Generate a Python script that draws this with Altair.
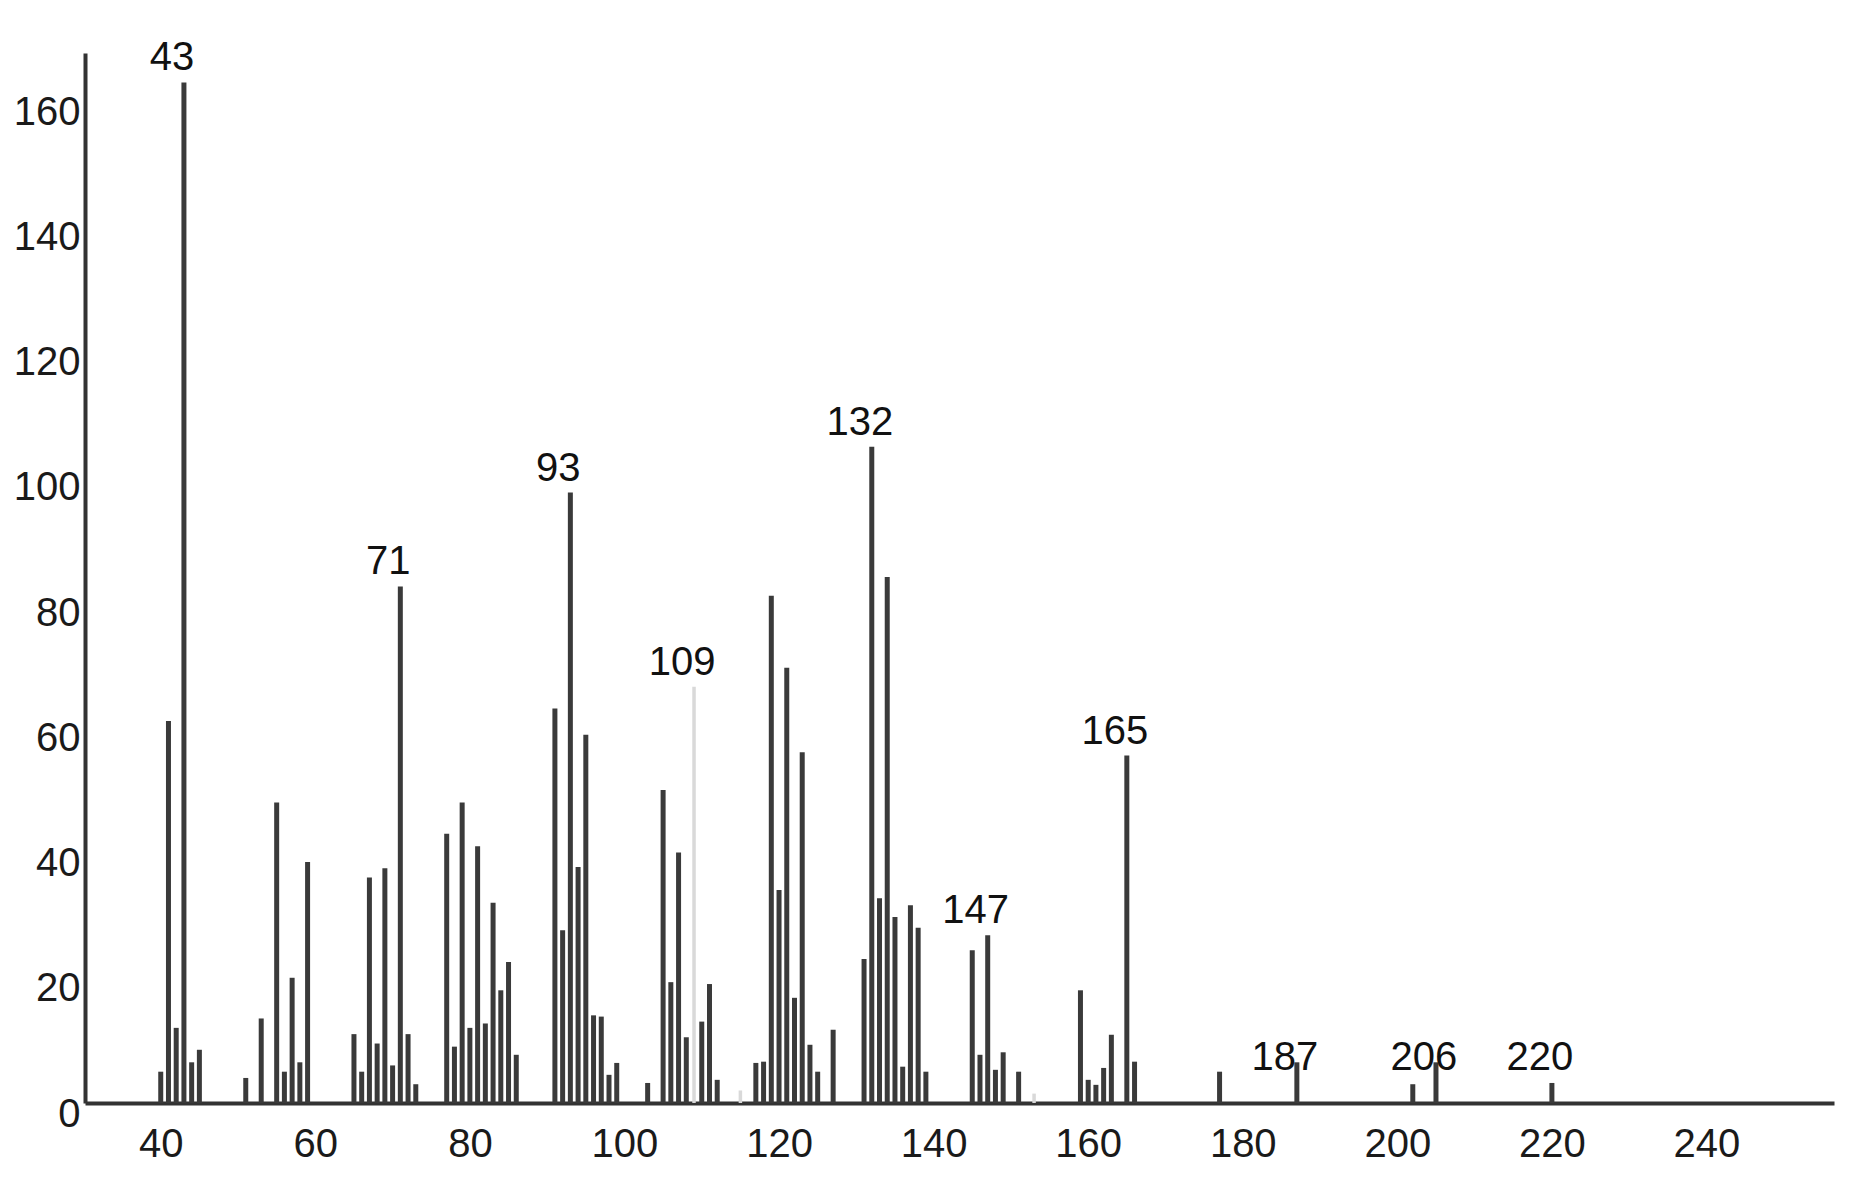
import altair as alt
import pandas as pd

# m/z positions and relative intensities
mz = [40, 41, 42, 43, 44, 45,
      51, 53, 55, 56, 57, 58, 59,
      65, 66, 67, 68, 69, 70, 71, 72, 73,
      77, 78, 79, 80, 81, 82, 83, 84, 85, 86,
      91, 92, 93, 94, 95, 96, 97, 98, 99,
      103, 105, 106, 107, 108, 109, 110, 111, 112,
      115,
      117, 118, 119, 120, 121, 122, 123, 124, 125, 127,
      131, 132, 133, 134, 135, 136, 137, 138, 139,
      145, 146, 147, 148, 149, 151, 153,
      159, 160, 161, 162, 163, 165, 166,
      177, 187, 202, 205, 220]
intensity = [5, 61, 12, 163, 6.5, 8.5,
             4, 13.5, 48, 5, 20, 6.5, 38.5,
             11, 5, 36, 9.5, 37.5, 6, 82.5, 11, 3,
             43, 9, 48, 12, 41, 12.7, 32, 18, 22.5, 7.7,
             63, 27.6, 97.5, 37.7, 58.8, 14, 13.8, 4.5, 6.4,
             3.2, 50, 19.3, 40, 10.5, 66.5, 13, 19, 3.7,
             2,
             6.4, 6.6, 81, 34, 69.5, 16.8, 56, 9.3, 5, 11.7,
             23, 104.8, 32.7, 84, 29.7, 5.8, 31.6, 28, 5,
             24.4, 7.7, 26.8, 5.3, 8.1, 5, 1.5,
             18, 3.7, 2.9, 5.6, 10.9, 55.5, 6.6,
             5, 6.5, 3, 6.5, 3.2]
faint_mz = [109, 115, 153]

label_mz = [43, 71, 93, 109, 132, 147, 165, 187, 205, 220]
label_text = ["43", "71", "93", "109", "132", "147", "165", "187", "206", "220"]

x_ticks = [40, 60, 80, 100, 120, 140, 160, 180, 200, 220, 240]
y_ticks = [0, 20, 40, 60, 80, 100, 120, 140, 160]

df = pd.DataFrame({"mz": mz, "intensity": intensity})
df["faint"] = df["mz"].isin(faint_mz)
lookup = dict(zip(mz, intensity))
labels = pd.DataFrame({"mz": label_mz, "label": label_text,
                       "intensity": [lookup[m] for m in label_mz]})

FONT = "Liberation Sans"
xscale = alt.Scale(domain=[30.2, 256.5], nice=False, zero=False)
yscale = alt.Scale(domain=[0, 167.7], nice=False)

x_axis = alt.Axis(values=x_ticks, title=None, grid=False, ticks=False, tickSize=0,
                  labelFontSize=40, labelFont=FONT, labelColor="#1a1a1a",
                  labelPadding=21, domainColor="#333333", domainWidth=4,
                  labelFlush=False)
y_axis = alt.Axis(values=y_ticks, title=None, grid=False, ticks=False, tickSize=0,
                  labelFontSize=40, labelFont=FONT, labelColor="#1a1a1a",
                  labelPadding=5, labelOffset=11, domainColor="#333333",
                  domainWidth=4, labelFlush=False)

X = alt.X("mz:Q", scale=xscale, axis=x_axis, title=None)

dark = alt.Chart(df).transform_filter("!datum.faint").mark_rule(
    strokeWidth=5, strokeCap="butt", color="#3a3a3a"
).encode(
    x=X,
    y=alt.Y("intensity:Q", scale=yscale, axis=y_axis, title=None),
    y2=alt.datum(0),
)

light = alt.Chart(df).transform_filter("datum.faint").mark_rule(
    strokeWidth=3.5, strokeCap="butt", color="#d9d9d9"
).encode(
    x=X,
    y=alt.Y("intensity:Q", scale=yscale, axis=y_axis, title=None),
    y2=alt.datum(0),
)

text = alt.Chart(labels).transform_calculate(
    ly="datum.intensity > 10 ? datum.intensity : 3.3"
).mark_text(
    fontSize=40, font=FONT, color="#111111", baseline="alphabetic",
    align="center", dx=-12, dy=-12
).encode(
    x=X,
    y=alt.Y("ly:Q", scale=yscale, axis=y_axis, title=None),
    text="label:N",
)

chart = alt.layer(dark, light, text).properties(
    width=1749, height=1050,
    autosize=alt.AutoSizeParams(type="none"),
    padding={"left": 77, "top": 45, "right": 16, "bottom": 70},
    background="white",
).configure_view(stroke=None)

chart.save("out.html", embed_options={"renderer": "svg", "actions": False})
